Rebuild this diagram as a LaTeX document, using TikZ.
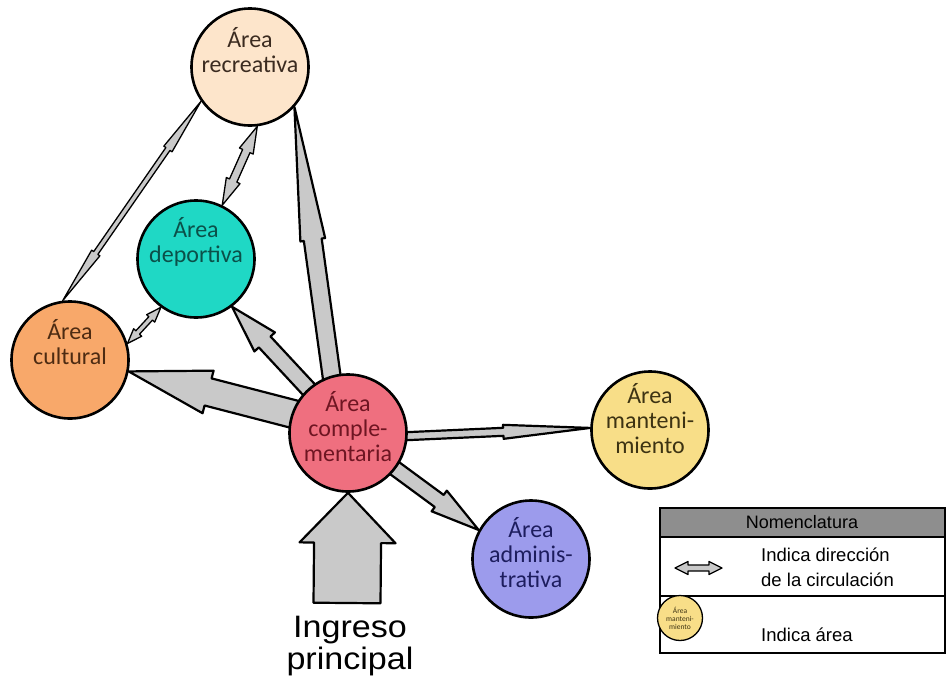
\documentclass[tikz,border=0pt]{standalone}
\usepackage{fontspec}
\setmainfont{Carlito}
\newfontfamily\arialf{Liberation Sans}
\usetikzlibrary{calc,backgrounds}
\definecolor{recfill}{HTML}{FDE5CB}
\definecolor{depfill}{HTML}{1FD8C5}
\definecolor{culfill}{HTML}{F8A86A}
\definecolor{compfill}{HTML}{EF6F7F}
\definecolor{mantfill}{HTML}{F8DE88}
\definecolor{admfill}{HTML}{9C9BEC}
\definecolor{arrgray}{HTML}{C9C9C9}
\definecolor{hdrgray}{HTML}{8E8E8E}
\definecolor{rectext}{HTML}{3B2B20}
\definecolor{deptext}{HTML}{0B5049}
\definecolor{cultext}{HTML}{4D2B12}
\definecolor{comptext}{HTML}{6E1522}
\definecolor{manttext}{HTML}{3D3313}
\definecolor{admtext}{HTML}{1D1D5E}
\tikzset{
  area/.style={circle,draw=black,line width=2.6pt,minimum size=117pt,inner sep=0pt},
  atext/.style={font=\fontsize{24}{25}\selectfont,align=center,inner sep=0pt},
  arrowsty/.style={draw=black,fill=arrgray,line width=2.2pt,line join=round},
  thinarrow/.style={line width=1.3pt},
  legtext/.style={font=\arialf\fontsize{18.5}{20}\selectfont,anchor=west,inner sep=0pt},
}
% single arrow: #1 style, #2 start, #3 tip, #4 shaft half width, #5 head half width, #6 head length, #7 back extension
\newcommand\fatarrow[7][]{%
  \coordinate (s0) at ($(#2)!-#7!(#3)$);
  \coordinate (e0) at (#3);
  \coordinate (hb) at ($(e0)!#6!(s0)$);
  \draw[arrowsty,#1] ($(s0)!#4!90:(e0)$) -- ($(hb)!#4!90:(e0)$) -- ($(hb)!#5!90:(e0)$) -- (e0)
     -- ($(hb)!#5!-90:(e0)$) -- ($(hb)!#4!-90:(e0)$) -- ($(s0)!#4!-90:(e0)$) -- cycle;
}
% double arrow: #1 style, #2 end A, #3 end B, #4 shaft half width, #5 head half width, #6 head length
\newcommand\dblarrow[6][]{%
  \coordinate (s0) at (#2);
  \coordinate (e0) at (#3);
  \coordinate (hb1) at ($(e0)!#6!(s0)$);
  \coordinate (hb2) at ($(s0)!#6!(e0)$);
  \draw[arrowsty,#1] (s0) -- ($(hb2)!#5!90:(e0)$) -- ($(hb2)!#4!90:(e0)$) -- ($(hb1)!#4!90:(e0)$)
     -- ($(hb1)!#5!90:(e0)$) -- (e0) -- ($(hb1)!#5!-90:(e0)$) -- ($(hb1)!#4!-90:(e0)$)
     -- ($(hb2)!#4!-90:(e0)$) -- ($(hb2)!#5!-90:(e0)$) -- cycle;
}
\begin{document}
\begin{tikzpicture}[x=1pt,y=-1pt]
\useasboundingbox (0,0) rectangle (946,678);

% areas
\node[area,fill=recfill,label={[atext,text=rectext,yshift=17pt]center:{Área\\recreativa}}] (rec) at (250,67) {};
\node[area,fill=depfill,label={[atext,text=deptext,yshift=17pt]center:{Área\\deportiva}}] (dep) at (196,259) {};
\node[area,fill=culfill,label={[atext,text=cultext,yshift=18pt]center:{Área\\cultural}}] (cul) at (70,360) {};
\node[area,fill=compfill,label={[atext,text=comptext,yshift=6pt]center:{Área\\comple-\\mentaria}}] (comp) at (348,433) {};
\node[area,fill=mantfill,label={[atext,text=manttext,yshift=11pt]center:{Área\\manteni-\\miento}}] (mant) at (650,430) {};
\node[area,fill=admfill,label={[atext,text=admtext,yshift=6pt]center:{Área\\adminis-\\trativa}}] (adm) at (531,559) {};

\coordinate (ingb) at (347,603);
\node[font=\arialf\fontsize{31}{32}\selectfont,align=center,xscale=1.1,inner sep=0pt] (ing) at (350,646) {Ingreso\\principal};

\begin{pgfonlayer}{background}
  \fill[white] (0,0) rectangle (946,678);
  \fatarrow{comp.106}{rec.-42}{9pt}{12.5pt}{134pt}{8pt}
  \fatarrow{comp.132}{dep.-53}{8pt}{14pt}{48pt}{8pt}
  \fatarrow{comp.161}{cul.-11}{14pt}{22pt}{82pt}{8pt}
  \fatarrow{comp.-3}{mant.178}{4pt}{7pt}{87pt}{8pt}
  \fatarrow{comp.-37}{adm.151}{7.5pt}{12.8pt}{49pt}{8pt}
  \dblarrow[thinarrow]{rec.-145}{cul.97}{2.5pt}{5pt}{58pt}
  \dblarrow[thinarrow]{rec.-83}{dep.64}{4pt}{7.5pt}{27pt}
  \dblarrow[thinarrow]{dep.-126}{cul.16}{2.5pt}{5.5pt}{15pt}
  \fatarrow{ingb}{comp.south}{33.5pt}{48pt}{50pt}{0pt}
\end{pgfonlayer}

% legend
\draw[line width=1.2pt,fill=hdrgray] (660,508) rectangle (945,537);
\draw[line width=1.2pt] (660,537) rectangle (945,596);
\draw[line width=1.2pt] (660,596) rectangle (945,653);
\node[font=\arialf\fontsize{18}{20}\selectfont,inner sep=0pt] (nom) at (802,522) {Nomenclatura};
\coordinate (la) at (675,568);
\coordinate (lb) at (722,568);
\dblarrow[line width=1.3pt]{la}{lb}{3pt}{6.5pt}{13pt}
\node[legtext] (l1) at (761,555) {Indica dirección};
\node[legtext] (l2) at (761,580) {de la circulación};
\node[circle,draw=black,line width=1.3pt,fill=mantfill,minimum size=45pt,inner sep=0pt,
      font=\fontsize{7.5}{8}\selectfont,align=center,text=manttext] (lcirc) at (680,618) {Área\\manteni-\\miento};
\node[legtext] (l3) at (761,635) {Indica área};
\end{tikzpicture}
\end{document}
